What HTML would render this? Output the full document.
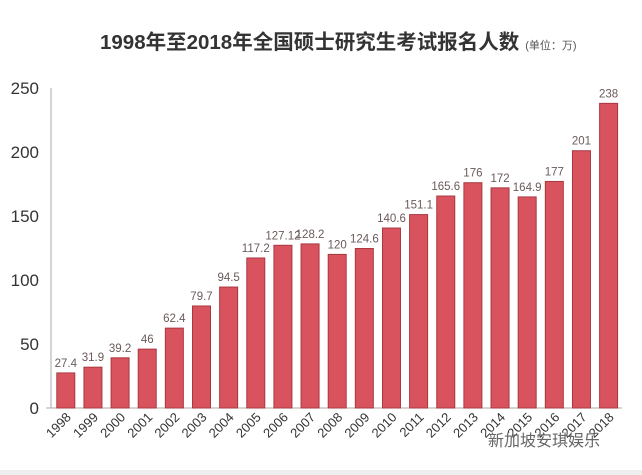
<!DOCTYPE html>
<html><head><meta charset="utf-8"><style>
body{margin:0;background:#fff;}
svg{display:block;font-family:"Liberation Sans","Noto Sans CJK SC",sans-serif;}
</style></head><body>
<svg width="642" height="475" viewBox="0 0 642 475">
<rect x="0" y="0" width="642" height="475" fill="#fff"/>
<rect x="0" y="470" width="642" height="5" fill="#eeeeee"/>
<text x="100" y="49" font-size="20.5" font-weight="bold" fill="#333">1998年至2018年全国硕士研究生考试报名人数<tspan font-size="11" font-weight="normal" fill="#555" dx="6">(单位：万)</tspan></text>
<g id="axes"></g>
<g id="bars"></g>
<text x="488" y="446" font-size="16" fill="#666">新加坡安琪娱乐</text>
<script>
const categories=["1998","1999","2000","2001","2002","2003","2004","2005","2006","2007","2008","2009","2010","2011","2012","2013","2014","2015","2016","2017","2018"];
const values=[27.4,31.9,39.2,46,62.4,79.7,94.5,117.2,127.12,128.2,120,124.6,140.6,151.1,165.6,176,172,164.9,177,201,238];
const valueLabels=["27.4","31.9","39.2","46","62.4","79.7","94.5","117.2","127.12","128.2","120","124.6","140.6","151.1","165.6","176","172","164.9","177","201","238"];
const yTicks=[0,50,100,150,200,250];
const NS="http://www.w3.org/2000/svg";
const y0=408,yTop=88,yMax=250;
const x0=65.8,step=27.14,bw=18;
function yScale(v){return y0-(v/yMax)*(y0-yTop);}
function xScale(i){return x0+i*step;}
function mk(tag,attrs,parent){const e=document.createElementNS(NS,tag);for(const k in attrs)e.setAttribute(k,attrs[k]);parent.appendChild(e);return e;}
const axes=document.getElementById('axes'),bars=document.getElementById('bars');
const ya=mk('line',{x1:51,y1:yTop,x2:51,y2:y0,stroke:'#aaa','stroke-width':1},axes);


const xa=mk('line',{x1:46,y1:y0,x2:622,y2:y0,stroke:'#aaa','stroke-width':1},axes);


yTicks.forEach(t=>{
  const tx=mk('text',{x:39,y:yScale(t)+6,'font-size':17,fill:'#333','text-anchor':'end'},axes);
  tx.textContent=t;
  
  
});
values.forEach((v,i)=>{
  const cx=xScale(i);
  const r=mk('rect',{x:cx-bw/2,y:yScale(v),width:bw,height:y0-yScale(v),fill:'#d9535f',stroke:'#a8383f','stroke-width':1},bars);
  
  
  const lb=mk('text',{x:cx,y:yScale(v)-6,'font-size':11.5,fill:'#6b5a5a','text-anchor':'middle'},bars);
  lb.textContent=valueLabels[i];
  
  
  const xl=mk('text',{x:cx+6,y:418,'font-size':13,fill:'#333','text-anchor':'end',transform:'rotate(-45 '+(cx+6)+' 418)'},bars);
  xl.textContent=categories[i];
  
  
});
</script>
</svg>
</body></html>
